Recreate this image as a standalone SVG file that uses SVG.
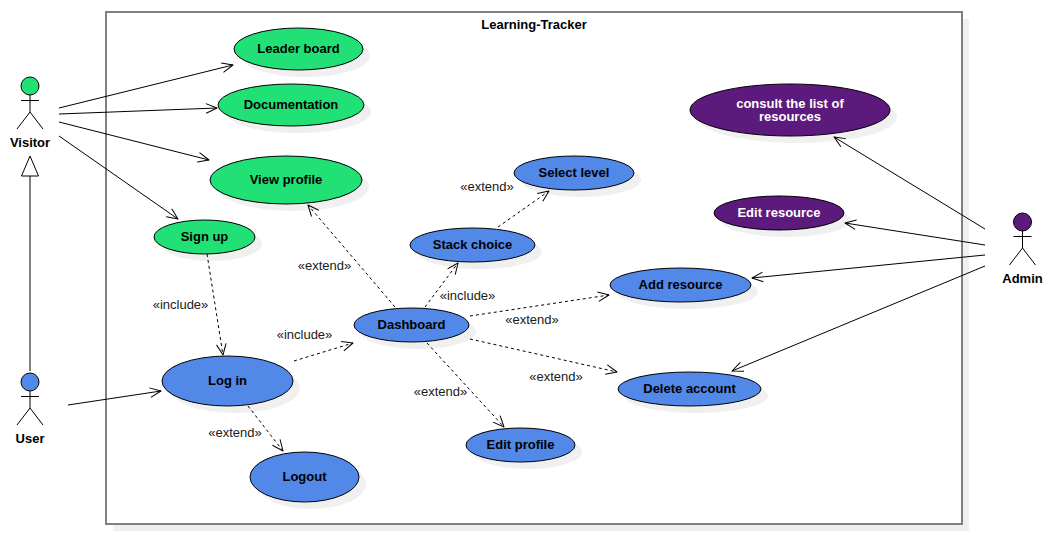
<svg xmlns="http://www.w3.org/2000/svg" width="1049" height="536" viewBox="0 0 1049 536">
<style>
text{font-family:"Liberation Sans",Arial,sans-serif;font-size:13px;text-anchor:middle;fill:#000}
.n{font-weight:bold}
.w{fill:#fff;font-weight:bold}
.l{fill:#1a1a1a}
.e{stroke:#000;stroke-width:1}
.g{fill:#21e076}
.b{fill:#5288e8}
.p{fill:#5c1a7c}
.s{fill:#f0f0f0;stroke:none}
.a{fill:none;stroke:#000;stroke-width:1}
.c{fill:none;stroke:#000;stroke-width:1;marker-end:url(#o)}
.d{fill:none;stroke:#000;stroke-width:1;stroke-dasharray:3 3;marker-end:url(#o)}
</style>
<defs>
<marker id="o" markerUnits="userSpaceOnUse" markerWidth="16" markerHeight="16" refX="12" refY="8" orient="auto" overflow="visible">
<path d="M1 3.200L12 8L1 12.800" fill="none" stroke="#000" stroke-width="1" stroke-linejoin="round"/>
</marker>
</defs>
<rect width="1049" height="536" fill="#fff"/>
<g id="boundary">
<rect class="s" x="113" y="19" width="856" height="512"/>
<rect x="106" y="12" width="856" height="512" fill="#fff" stroke="#808080" stroke-width="2"/>
<text class="n" x="534" y="29">Learning-Tracker</text>
</g>
<g id="shadows">
<ellipse class="s" cx="305.500" cy="56" rx="64.500" ry="21"/>
<ellipse class="s" cx="298" cy="112" rx="73" ry="21"/>
<ellipse class="s" cx="293" cy="187" rx="76" ry="24"/>
<ellipse class="s" cx="211.500" cy="244" rx="50.500" ry="17"/>
<ellipse class="s" cx="234.500" cy="388" rx="65.500" ry="25"/>
<ellipse class="s" cx="311.500" cy="484" rx="54.500" ry="25"/>
<ellipse class="s" cx="418.500" cy="332" rx="57.500" ry="17"/>
<ellipse class="s" cx="479.500" cy="252" rx="62.500" ry="17"/>
<ellipse class="s" cx="581" cy="180" rx="60" ry="17"/>
<ellipse class="s" cx="687.500" cy="292" rx="70.500" ry="17"/>
<ellipse class="s" cx="696.500" cy="396" rx="71.500" ry="17"/>
<ellipse class="s" cx="527.500" cy="452" rx="54.500" ry="17"/>
<ellipse class="s" cx="797" cy="117" rx="100" ry="26"/>
<ellipse class="s" cx="786" cy="220" rx="65" ry="17"/>
</g>
<g id="connectors">
<path d="M30 371V176" fill="none" stroke="#808080" stroke-width="2"/>
<path d="M30 156L38.500 176H21.500Z" fill="#fff" stroke="#000"/>
<path class="c" d="M59 108L233 65"/>
<path class="c" d="M59 114L217 108"/>
<path class="c" d="M59 122L209 160"/>
<path class="c" d="M59 136L178 219"/>
<path class="c" d="M68 405L161 391"/>
<path class="d" d="M207 254L223 355"/>
<path class="d" d="M294 361L353 343"/>
<path class="d" d="M248 406L283 451"/>
<path class="d" d="M395 307L308 205"/>
<path class="d" d="M425 307L458 263"/>
<path class="d" d="M498 227L549 191"/>
<path class="d" d="M470 316L609 295"/>
<path class="d" d="M470 339L617 372"/>
<path class="d" d="M427 343L504 427"/>
<path class="c" d="M985 229L834 137"/>
<path class="c" d="M985 245L845 223"/>
<path class="c" d="M985 255L752 278"/>
<path class="c" d="M985 266L732 371"/>
</g>
<g id="edge-labels">
<text class="l" x="487" y="191">«extend»</text>
<text class="l" x="324.500" y="270">«extend»</text>
<text class="l" x="467.500" y="300">«include»</text>
<text class="l" x="532" y="324">«extend»</text>
<text class="l" x="180.500" y="309">«include»</text>
<text class="l" x="304.500" y="339">«include»</text>
<text class="l" x="556" y="381">«extend»</text>
<text class="l" x="440.500" y="396">«extend»</text>
<text class="l" x="235" y="437">«extend»</text>
</g>
<g id="actor-visitor">
<circle class="e g" cx="30" cy="86" r="9"/>
<path class="a" d="M30 95V112M21 100.500H39M17 129L30 112L43 129"/>
<text class="n" x="30" y="147">Visitor</text>
</g>
<g id="actor-user">
<circle class="e b" cx="30" cy="382" r="9"/>
<path class="a" d="M30 391V408M21 396.500H39M17 425L30 408L43 425"/>
<text class="n" x="30" y="443">User</text>
</g>
<g id="actor-admin">
<circle class="e p" cx="1022.500" cy="222" r="9"/>
<path class="a" d="M1022.500 231V248M1013.500 236.500H1031.500M1009.500 265L1022.500 248L1035.500 265"/>
<text class="n" x="1022.500" y="283">Admin</text>
</g>
<g id="leader-board"><ellipse class="e g" cx="298.500" cy="49" rx="64.500" ry="21"/><text class="n" x="298.500" y="53">Leader board</text></g>
<g id="documentation"><ellipse class="e g" cx="291" cy="105" rx="73" ry="21"/><text class="n" x="291" y="109">Documentation</text></g>
<g id="view-profile"><ellipse class="e g" cx="286" cy="180" rx="76" ry="24"/><text class="n" x="286" y="184">View profile</text></g>
<g id="sign-up"><ellipse class="e g" cx="204.500" cy="237" rx="50.500" ry="17"/><text class="n" x="204.500" y="241">Sign up</text></g>
<g id="log-in"><ellipse class="e b" cx="227.500" cy="381" rx="65.500" ry="25"/><text class="n" x="227.500" y="385">Log in</text></g>
<g id="logout"><ellipse class="e b" cx="304.500" cy="477" rx="54.500" ry="25"/><text class="n" x="304.500" y="481">Logout</text></g>
<g id="dashboard"><ellipse class="e b" cx="411.500" cy="325" rx="57.500" ry="17"/><text class="n" x="411.500" y="329">Dashboard</text></g>
<g id="stack-choice"><ellipse class="e b" cx="472.500" cy="245" rx="62.500" ry="17"/><text class="n" x="472.500" y="249">Stack choice</text></g>
<g id="select-level"><ellipse class="e b" cx="574" cy="173" rx="60" ry="17"/><text class="n" x="574" y="177">Select level</text></g>
<g id="add-resource"><ellipse class="e b" cx="680.500" cy="285" rx="70.500" ry="17"/><text class="n" x="680.500" y="289">Add resource</text></g>
<g id="delete-account"><ellipse class="e b" cx="689.500" cy="389" rx="71.500" ry="17"/><text class="n" x="689.500" y="393">Delete account</text></g>
<g id="edit-profile"><ellipse class="e b" cx="520.500" cy="445" rx="54.500" ry="17"/><text class="n" x="520.500" y="449">Edit profile</text></g>
<g id="consult-resources"><ellipse class="e p" cx="790" cy="110" rx="100" ry="26"/><text class="w" x="790" y="108">consult the list of</text><text class="w" x="790" y="121">resources</text></g>
<g id="edit-resource"><ellipse class="e p" cx="779" cy="213" rx="65" ry="17"/><text class="w" x="779" y="217">Edit resource</text></g>
</svg>
